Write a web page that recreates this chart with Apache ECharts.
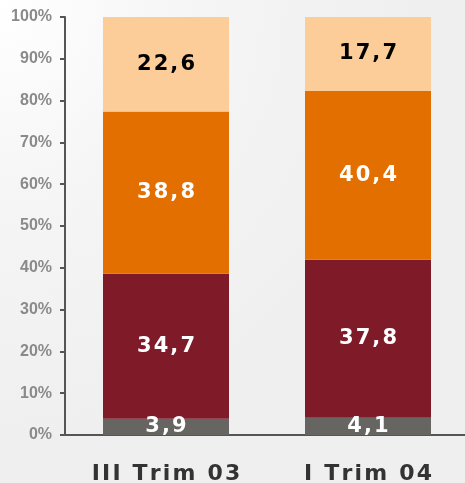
<!DOCTYPE html>
<html>
<head>
<meta charset="utf-8">
<script src="https://cdn.jsdelivr.net/npm/echarts@6/dist/echarts.min.js"></script>
<style>
  html, body { margin: 0; padding: 0; }
  #chart { width: 465px; height: 483px;
    background: radial-gradient(ellipse at 0% 0%, #ffffff 0%, #f5f5f5 30%, #efefef 65%); }
</style>
</head>
<body>
<div id="chart"></div>
<script>
// Quarter categories
const categories = ['III Trim 03', 'I Trim 04'];
// Share of each segment (percent), bottom to top
const seriesGrey = [3.9, 4.1];
const seriesRed = [34.7, 37.8];
const seriesOrange = [38.8, 40.4];
const seriesPeach = [22.6, 17.7];
// Value axis tick labels
const yTicks = ['0%', '10%', '20%', '30%', '40%', '50%', '60%', '70%', '80%', '90%', '100%'];

// Widen text by putting hair spaces between the characters
const spaced = s => Array.from(s).join('\u200A');
const fmt = p => spaced(String(p.value).replace('.', ','));

function seg(data, color, textColor) {
  return {
    type: 'bar', stack: 'total', data: data, barWidth: 126,
    itemStyle: { color: color },
    label: {
      show: true, position: 'inside', formatter: fmt,
      color: textColor, fontFamily: 'DejaVu Sans', fontWeight: 'bold', fontSize: 21
    }
  };
}

const chart = echarts.init(document.getElementById('chart'));
chart.setOption({
  animation: false,
  grid: { left: 65, right: -4, top: 17, bottom: 48, outerBoundsMode: 'none', containLabel: false },
  xAxis: {
    type: 'category', data: categories,
    axisLine: { lineStyle: { color: '#555', width: 2 } },
    axisTick: { show: false },
    axisLabel: {
      color: '#333', fontFamily: 'DejaVu Sans', fontWeight: 'bold', fontSize: 22, margin: 28,
      formatter: v => spaced(v)
    }
  },
  yAxis: {
    type: 'value', min: 0, max: 100, interval: 10,
    splitLine: { show: false },
    axisLine: { show: true, lineStyle: { color: '#555', width: 2 } },
    axisTick: { show: true, length: 5, lineStyle: { color: '#555', width: 2 } },
    axisLabel: {
      color: '#8a8a8a', fontFamily: 'Liberation Sans', fontWeight: 'bold', fontSize: 16, margin: 13,
      formatter: v => yTicks[Math.round(v / 10)]
    }
  },
  series: [
    seg(seriesGrey, '#676561', '#fff'),
    seg(seriesRed, '#7f1a29', '#fff'),
    seg(seriesOrange, '#e36f00', '#fff'),
    seg(seriesPeach, '#fdcd99', '#000')
  ]
});
</script>
</body>
</html>
